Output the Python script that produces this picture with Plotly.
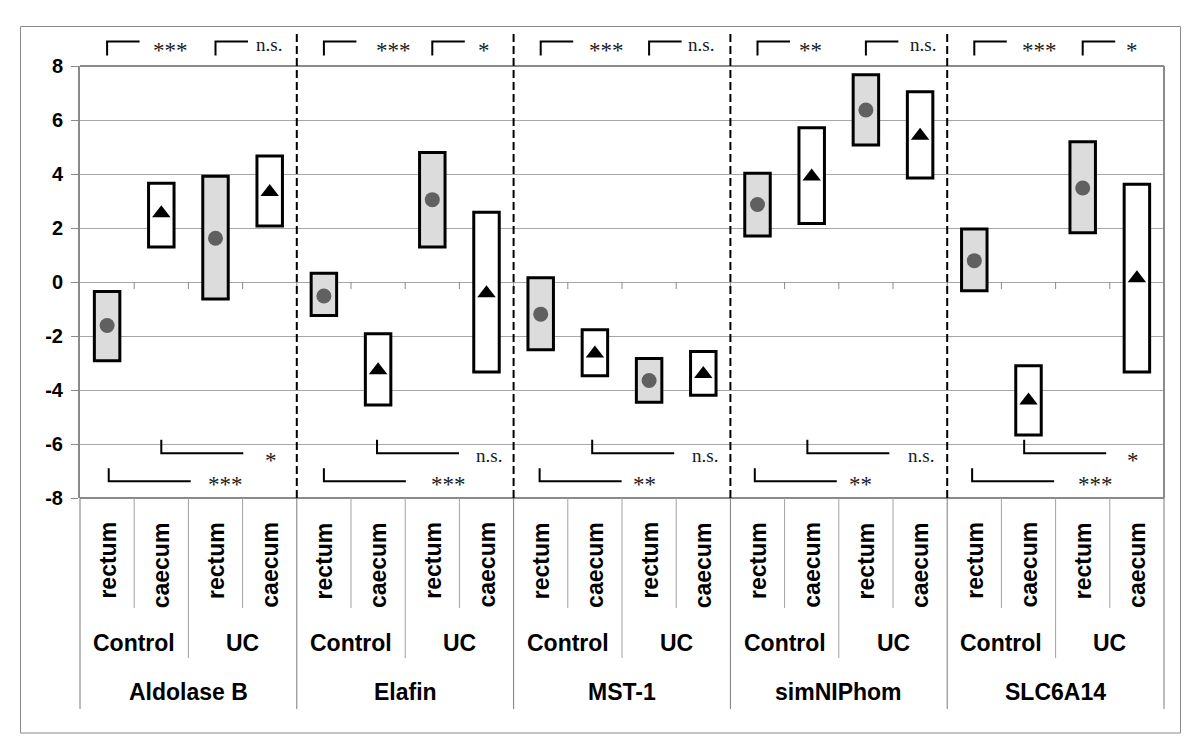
import plotly.graph_objects as go

# ---------------- data ----------------
genes = ["Aldolase B", "Elafin", "MST-1", "simNIPhom", "SLC6A14"]
groups = ["Control", "UC"]
tissues = ["rectum", "caecum"]

# per gene: Control rectum, Control caecum, UC rectum, UC caecum
box_low = [-2.92, 1.30, -0.63, 2.07,
           -1.24, -4.56, 1.30, -3.33,
           -2.51, -3.47, -4.45, -4.19,
           1.70, 2.17, 5.07, 3.85,
           -0.32, -5.67, 1.82, -3.33]
box_high = [-0.35, 3.66, 3.92, 4.67,
            0.32, -1.92, 4.80, 2.58,
            0.16, -1.77, -2.83, -2.57,
            4.03, 5.71, 7.68, 7.05,
            1.96, -3.10, 5.19, 3.62]
median = [-1.61, 2.55, 1.62, 3.33,
          -0.52, -3.27, 3.05, -0.42,
          -1.19, -2.65, -3.65, -3.41,
          2.87, 3.91, 6.37, 5.42,
          0.79, -4.39, 3.48, 0.14]

sig_top_control = ["***", "***", "***", "**", "***"]
sig_top_uc = ["n.s.", "*", "n.s.", "n.s.", "*"]
sig_bottom_caecum = ["*", "n.s.", "n.s.", "n.s.", "*"]
sig_bottom_rectum = ["***", "***", "**", "**", "***"]

y_tick_vals = [-8, -6, -4, -2, 0, 2, 4, 6, 8]
y_tick_text = ["-8", "-6", "-4", "-2", "0", "2", "4", "6", "8"]

# ---------------- geometry helpers ----------------
OFF = 8  # default page body margin
W, H = 1200 - OFF, 745 - OFF
PL, PR, PT, PB = 80, 1164, 66, 498   # plot area in page pixels
ML, MT = PL - OFF, PT - OFF
MR, MB = W - (PR - OFF), H - (PB - OFF)
PW, PH = PR - PL, PB - PT
N = len(genes) * len(groups) * len(tissues)


def px_y(py):  # page pixel y -> paper y
    return (PB - py) / PH


def px_x(px):
    return (px - PL) / PW


def cat_x(i):  # category index (may be fractional) -> paper x
    return (i + 0.5) / N


def val_y(v):
    return (v - y_tick_vals[0]) / (y_tick_vals[-1] - y_tick_vals[0])


xs = list(range(N))
fill = ["#dcdcdc" if i % 2 == 0 else "#ffffff" for i in xs]

fig = go.Figure()
fig.add_trace(go.Bar(
    x=xs, y=[h - l for h, l in zip(box_high, box_low)], base=box_low,
    width=0.47, marker=dict(color=fill, line=dict(color="#000000", width=3)),
    showlegend=False, hoverinfo="skip"))
fig.add_trace(go.Scatter(
    x=[i for i in xs if i % 2 == 0], y=[median[i] for i in xs if i % 2 == 0],
    mode="markers", marker=dict(symbol="circle", size=15, color="#606060"),
    showlegend=False))
fig.add_trace(go.Scatter(
    x=[i for i in xs if i % 2 == 1], y=[median[i] for i in xs if i % 2 == 1],
    mode="markers", marker=dict(symbol="triangle-up", size=16, color="#000000"),
    showlegend=False))

shapes = []
annotations = []
grey = "#8a8a8a"

# plot frame (top, right, bottom)
shapes.append(dict(type="line", xref="paper", yref="paper", x0=0, x1=1, y0=1, y1=1,
                   line=dict(color=grey, width=2)))
shapes.append(dict(type="line", xref="paper", yref="paper", x0=1, x1=1, y0=0, y1=1,
                   line=dict(color=grey, width=2)))
shapes.append(dict(type="line", xref="paper", yref="paper", x0=0, x1=1, y0=0, y1=0,
                   line=dict(color=grey, width=2)))
# outer border
shapes.append(dict(type="rect", xref="paper", yref="paper",
                   x0=px_x(20.5), x1=px_x(1180.5), y0=px_y(733), y1=px_y(26.5),
                   line=dict(color=grey, width=1)))

# small x ticks at y=0
for b in range(N - 1):
    shapes.append(dict(type="line", xref="paper", yref="paper",
                       x0=(b + 1) / N, x1=(b + 1) / N, y0=val_y(0), y1=val_y(0) - 7 / PH,
                       line=dict(color=grey, width=1)))

# separators in label area
for b in range(N + 1):
    if b % 4 == 0:
        yb = px_y(709)
        col = "#7a7a7a"
    elif b % 2 == 0:
        yb = px_y(658)
        col = "#a0a0a0"
    else:
        yb = px_y(608)
        col = "#a0a0a0"
    shapes.append(dict(type="line", xref="paper", yref="paper", x0=b / N, x1=b / N,
                       y0=0, y1=yb, line=dict(color=col, width=1)))

# dashed gene dividers
for g in range(1, len(genes)):
    xb = 4 * g / N
    shapes.append(dict(type="line", xref="paper", yref="paper", x0=xb, x1=xb,
                       y0=0, y1=px_y(33), line=dict(color="#000000", width=2, dash="8px,4px")))

lab_font = dict(family="Liberation Sans, Arial", size=23, color="#000000", weight="bold")
for i in xs:
    annotations.append(dict(xref="paper", yref="paper", x=cat_x(i), y=px_y(520),
                            text=tissues[i % 2], textangle=-90, showarrow=False,
                            xanchor="center", yanchor="top", font=lab_font))
for gi in range(len(genes)):
    for k in range(2):
        annotations.append(dict(xref="paper", yref="paper", x=cat_x(4 * gi + 2 * k + 0.5),
                                y=px_y(643), text=groups[k], showarrow=False,
                                xanchor="center", yanchor="middle", font=lab_font))
    annotations.append(dict(xref="paper", yref="paper", x=cat_x(4 * gi + 1.5),
                            y=px_y(692), text=genes[gi], showarrow=False,
                            xanchor="center", yanchor="middle", font=lab_font))

# significance brackets
ns_font = dict(family="Liberation Serif, Times New Roman", size=19, color="#1a1a1a")
star_font = dict(family="Liberation Serif, Times New Roman", size=23, color="#1a1a1a")
top_line, top_tick = px_y(41.5), px_y(55.5)
top_text_off_ctrl = [1.17, 1.29, 1.22, 0.97, 1.20]
top_text_off_uc = [2.99, 2.96, 2.96, 3.05, 2.91]
bot_tick_off_up = [1.0, 0.98, 0.95, 0.92, 0.92]
bot_tick_off_lo = [0.03, 0.0, -0.02, -0.05, -0.04]
bot_text_off_up = [3.02, 3.04, 3.03, 3.01, 2.93]
bot_text_off_lo = [2.19, 2.30, 1.92, 1.90, 2.24]
blen = 32.5 / PW
blen_b = 82 / PW
for gi in range(len(genes)):
    base = 4 * gi
    for k, (lab, toff) in enumerate(zip([sig_top_control[gi], sig_top_uc[gi]],
                                        [top_text_off_ctrl[gi], top_text_off_uc[gi]])):
        x0 = cat_x(base + 2 * k)
        shapes.append(dict(type="path", xref="paper", yref="paper",
                           path=f"M{x0},{top_tick} L{x0},{top_line} L{x0 + blen},{top_line}",
                           line=dict(color="#000000", width=2)))
        star = "*" in lab
        annotations.append(dict(xref="paper", yref="paper", x=cat_x(base + toff),
                                y=px_y(50 if star else 44), text=lab, showarrow=False,
                                xanchor="center", yanchor="middle",
                                font=star_font if star else ns_font))
    # caecum comparison (upper) and rectum comparison (lower)
    for lab, toff, xoff, yt, yl, ytext in [
            (sig_bottom_caecum[gi], bot_text_off_up[gi], bot_tick_off_up[gi], -5.84, -6.34, -6.42),
            (sig_bottom_rectum[gi], bot_text_off_lo[gi], bot_tick_off_lo[gi], -6.90, -7.38, -7.30)]:
        x0 = cat_x(base + xoff)
        shapes.append(dict(type="path", xref="paper", yref="paper",
                           path=f"M{x0},{val_y(yt)} L{x0},{val_y(yl)} L{x0 + blen_b},{val_y(yl)}",
                           line=dict(color="#000000", width=2)))
        star = "*" in lab
        annotations.append(dict(xref="paper", yref="paper", x=cat_x(base + toff),
                                y=val_y(ytext - (0.2 if star else 0.0)), text=lab,
                                showarrow=False, xanchor="center", yanchor="middle",
                                font=star_font if star else ns_font))

fig.update_layout(
    width=W, height=H,
    margin=dict(l=ML, r=MR, t=MT, b=MB, pad=0),
    paper_bgcolor="#ffffff", plot_bgcolor="#ffffff",
    barmode="overlay", showlegend=False,
    shapes=shapes, annotations=annotations,
    xaxis=dict(range=[-0.5, N - 0.5], showticklabels=False, showgrid=False,
               zeroline=False, showline=False, ticks="", fixedrange=True),
    yaxis=dict(range=[y_tick_vals[0], y_tick_vals[-1]], tickvals=y_tick_vals,
               ticktext=y_tick_text, showgrid=True, gridcolor="#a6a6a6", gridwidth=1.2,
               zeroline=False, showline=True, linecolor=grey, linewidth=2,
               ticks="outside", ticklen=7, tickcolor=grey, tickwidth=1,
               ticklabelstandoff=4,
               tickfont=dict(family="Liberation Sans, Arial", size=20, color="#000000",
                             weight="bold"), fixedrange=True),
)

fig.write_html("out.html")
